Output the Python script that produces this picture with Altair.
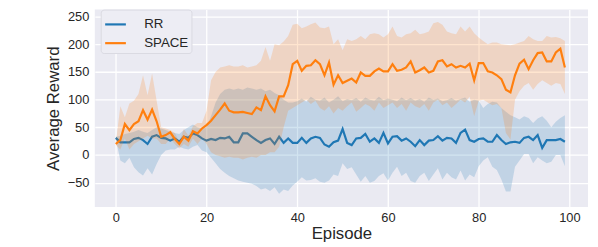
import altair as alt
import pandas as pd

episodes = list(range(100))

series_names = ["RR", "SPACE"]
series_colors = ["#1f77b4", "#ff7f0e"]
x_ticks = [0, 20, 40, 60, 80, 100]
y_ticks = [-50, 0, 50, 100, 150, 200, 250]

rr_mean = [31, 23, 23, 23, 29, 31, 27, 20, 33, 36, 31, 30, 26, 30, 24, 33, 31, 39, 36, 30, 26,
           29, 27, 31, 30, 33, 23, 23, 39, 39, 33, 27, 22, 27, 30, 20, 33, 22, 30, 22, 22,
           31, 22, 30, 33, 31, 19, 15, 23, 26, 47, 22, 18, 30, 31, 38, 24, 30, 22, 40, 21,
           33, 34, 26, 30, 24, 16, 27, 18, 26, 27, 34, 26, 31, 30, 22, 40, 46, 27, 24, 29,
           30, 24, 24, 36, 27, 20, 23, 24, 22, 31, 33, 27, 36, 13, 27, 27, 27, 29, 24]
rr_lo = [29, -10, -15, -5, -22, -31, -37, -24, -35, -16, 0, 8, 10, 10, 15, 12, 10, 15, 18, 8, 5,
         -5, -15, -25, -32, -38, -42, -46, -48, -50, -52, -56, -62, -60, -65, -58, -70, -62, -65, -55, -48,
         -40, -46, -45, -42, -48, -50, -46, -35, -38, -15, -25, -22, -35, -48, -38, -50, -47, -38, -33, -46,
         -32, -21, -38, -32, -47, -50, -38, -32, -47, -35, -24, -44, -32, -40, -44, -28, -46, -35, -40, -20,
         -10, -4, -21, -27, -44, -66, -66, -21, -10, 2, 2, -15, -4, -10, -15, -12, 0, 0, -20]
rr_hi = [33, 35, 38, 40, 42, 45, 42, 40, 45, 50, 48, 45, 42, 40, 38, 45, 50, 55, 50, 48, 50,
         70, 95, 110, 118, 120, 118, 120, 118, 122, 120, 118, 120, 115, 118, 112, 108, 100, 95, 95, 97,
         102, 96, 105, 100, 98, 104, 95, 100, 106, 97, 101, 99, 103, 96, 104, 100, 98, 105, 99, 102,
         100, 97, 104, 99, 103, 98, 101, 96, 104, 100, 102, 97, 99, 103, 98, 101, 104, 96, 100, 98,
         85, 92, 96, 95, 85, 78, 72, 68, 64, 70, 67, 58, 66, 70, 62, 50, 60, 67, 72]

space_mean = [20, 27, 56, 45, 56, 61, 81, 64, 82, 61, 33, 36, 41, 29, 20, 33, 26, 43, 39, 48, 54,
              62, 72, 82, 93, 80, 77, 77, 78, 76, 74, 86, 81, 106, 90, 79, 106, 106, 126, 164, 170,
              152, 161, 162, 171, 164, 144, 167, 127, 144, 130, 134, 138, 131, 149, 143, 143, 151, 156, 151, 151,
              164, 152, 154, 158, 169, 149, 153, 158, 149, 152, 169, 171, 160, 164, 158, 161, 158, 165, 135, 166,
              166, 151, 149, 144, 137, 118, 113, 144, 165, 172, 155, 171, 184, 185, 169, 169, 185, 192, 158]
space_lo = [18, 10, 30, 10, 20, 25, 30, 35, 30, 30, 20, 20, 30, 20, 12, 20, 15, 30, 20, 30, 20,
            5, 0, -2, -5, -3, -5, -5, -8, -5, -3, -5, 0, 0, 5, 5, 15, 50, 80, 85, 90,
            95, 100, 92, 98, 85, 80, 88, 75, 85, 80, 88, 95, 78, 85, 92, 88, 80, 95, 85, 90,
            95, 85, 92, 80, 95, 88, 85, 92, 80, 95, 100, 90, 95, 85, 92, 100, 95, 105, 70, 98,
            100, 95, 90, 92, 85, 40, 28, 100, 115, 125, 130, 118, 128, 135, 130, 125, 130, 128, 110]
space_hi = [22, 88, 68, 93, 98, 110, 144, 108, 147, 98, 50, 48, 45, 40, 24, 47, 35, 52, 58, 58, 80,
            135, 150, 158, 160, 162, 160, 160, 162, 158, 160, 162, 170, 195, 170, 200, 198, 205, 215, 235, 237,
            229, 232, 236, 239, 230, 229, 232, 200, 209, 189, 209, 206, 209, 215, 209, 218, 220, 218, 212, 218,
            232, 215, 212, 218, 220, 226, 218, 220, 223, 238, 240, 235, 223, 220, 218, 232, 223, 232, 220, 212,
            206, 200, 203, 203, 200, 199, 198, 200, 203, 206, 215, 209, 206, 206, 215, 212, 213, 211, 206]

rows = []
for name, m, lo, hi in [("RR", rr_mean, rr_lo, rr_hi), ("SPACE", space_mean, space_lo, space_hi)]:
    for e, a, b, c in zip(episodes, m, lo, hi):
        rows.append({"episode": e, "series": name, "mean": a, "lo": b, "hi": c})
df = pd.DataFrame(rows)

FONT = "Liberation Sans"
TXT = "#262626"

xscale = alt.Scale(domain=[-4.63, 104.1], nice=False, zero=False)
yscale = alt.Scale(domain=[-93.6, 262.46], nice=False, zero=False)
x_axis = alt.Axis(values=x_ticks, title="Episode", format="d", labelPadding=5, titlePadding=1)
y_axis = alt.Axis(values=y_ticks, title="Average Reward", format="d", labelPadding=6, titlePadding=5)
x_enc = alt.X("episode:Q", scale=xscale, axis=x_axis)

legend = alt.Legend(title=None, orient="none", legendX=6, legendY=0,
                    symbolType="stroke", symbolSize=441, symbolStrokeWidth=2.2,
                    symbolOpacity=1,
                    labelFontSize=13.5, labelFont=FONT, labelColor=TXT,
                    labelOffset=17, padding=3, rowPadding=-3.2,
                    fillColor="#EDEDF4", strokeColor="#D9D9E2",
                    cornerRadius=3)
color_enc = alt.Color("series:N", scale=alt.Scale(domain=series_names, range=series_colors),
                      legend=legend)

base = alt.Chart(df)

def band(name):
    return base.transform_filter(alt.datum.series == name).mark_area(opacity=0.2).encode(
        x=x_enc,
        y=alt.Y("lo:Q", scale=yscale, axis=y_axis),
        y2="hi:Q",
        color=color_enc,
    )

def line(name):
    return base.transform_filter(alt.datum.series == name).mark_line(strokeWidth=2.2).encode(
        x=x_enc,
        y=alt.Y("mean:Q", scale=yscale, axis=y_axis),
        color=color_enc,
    )

chart = alt.layer(band("RR"), line("RR"), band("SPACE"), line("SPACE")).properties(
    width=500, height=200,
    autosize=alt.AutoSizeParams(type="none"),
    padding={"left": 88, "top": 0, "right": 2, "bottom": 39},
).configure_view(
    fill="#EAEAF2", stroke=None
).configure_axis(
    domain=False, ticks=False, grid=True, gridColor="white", gridWidth=1.3,
    labelFont=FONT, labelFontSize=13, labelColor=TXT,
    titleFont=FONT, titleFontSize=17, titleColor=TXT, titleFontWeight="normal",
)

chart.save("out.html", embed_options={"renderer": "svg", "actions": False})
